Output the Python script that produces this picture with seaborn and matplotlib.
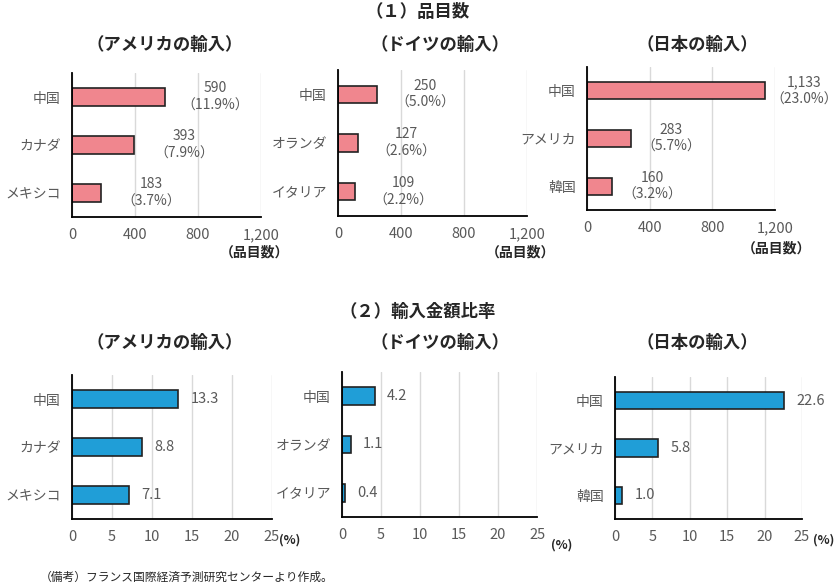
import pandas as pd
import matplotlib.pyplot as plt
import seaborn as sns

# --- Data ---
PANEL_TITLES = ['（アメリカの輸入）', '（ドイツの輸入）', '（日本の輸入）']
COUNTRIES = [
    ['中国', 'カナダ', 'メキシコ'],
    ['中国', 'オランダ', 'イタリア'],
    ['中国', 'アメリカ', '韓国'],
]
ITEM_COUNTS = [
    [590, 393, 183],
    [250, 127, 109],
    [1133, 283, 160],
]
ITEM_SHARES = [
    [11.9, 7.9, 3.7],
    [5.0, 2.6, 2.2],
    [23.0, 5.7, 3.2],
]
VALUE_SHARES = [
    [13.3, 8.8, 7.1],
    [4.2, 1.1, 0.4],
    [22.6, 5.8, 1.0],
]
COUNT_TICKS = [0, 400, 800, 1200]
SHARE_TICKS = [0, 5, 10, 15, 20, 25]

PINK = '#F0868E'
BLUE = '#209ED7'
GRAY = '#595959'

W, H = 837, 585

# axes boxes in pixels: left, right, top, bottom
TOP_BOXES = [(72, 261, 73, 217), (338, 527, 70, 216), (587, 775, 67, 210)]
BOT_BOXES = [(72, 272, 375, 519), (342, 537, 372, 517), (615, 802, 377, 519)]
LABEL_OFFSETS = [50, 48, 40]


def px_box(box):
    l, r, t, b = box
    return [l / W, 1 - b / H, (r - l) / W, (b - t) / H]


def style_axis(ax, ticks, ticklabels):
    ax.set_xlim(ticks[0], ticks[-1])
    ax.set_xticks(ticks)
    ax.set_xticklabels(ticklabels, fontsize=10.5)
    ax.grid(axis='x', color='#d9d9d9', linewidth=1)
    ax.grid(axis='y', visible=False)
    ax.set_axisbelow(True)
    for side in ['top', 'right']:
        ax.spines[side].set_visible(False)
    for side in ['left', 'bottom']:
        ax.spines[side].set_color('black')
        ax.spines[side].set_linewidth(1.3)
    ax.tick_params(length=0, labelsize=10, colors=GRAY, pad=8)
    ax.tick_params(axis='x', labelsize=10.5)
    ax.set_xlabel('')
    ax.set_ylabel('')


def main():
    sns.set_theme(style="white")
    plt.rcParams['font.family'] = ['Noto Sans CJK JP', 'DejaVu Sans']

    fig = plt.figure(figsize=(W / 100, H / 100), dpi=100)

    def ftext(x, y, s, **kw):
        fig.text(x / W, 1 - y / H, s, ha='center', va='center', **kw)

    ftext(418, 12, '（１）品目数', fontsize=12.5, fontweight='bold')
    ftext(418, 312, '（２）輸入金額比率', fontsize=12.5, fontweight='bold')
    title_x = [165, 440, 697]
    for i, t in enumerate(PANEL_TITLES):
        ftext(title_x[i], 45, t, fontsize=12.5, fontweight='bold')
        ftext(title_x[i], 343, t, fontsize=12.5, fontweight='bold')

    # (1) item counts
    unit_pos = [(255, 252), (521, 252), (777, 248)]
    for i in range(3):
        ax = fig.add_axes(px_box(TOP_BOXES[i]))
        df = pd.DataFrame({'country': COUNTRIES[i], 'value': ITEM_COUNTS[i]})
        sns.barplot(data=df, x='value', y='country', orient='h', color=PINK,
                    saturation=1, edgecolor='#222222', linewidth=1.2,
                    width=0.36, ax=ax)
        style_axis(ax, COUNT_TICKS, ['0', '400', '800', '1,200'])
        for j, (v, p) in enumerate(zip(ITEM_COUNTS[i], ITEM_SHARES[i])):
            ax.annotate(f'{v:,}\n（{p:.1f}%）', xy=(v, j),
                        xytext=(LABEL_OFFSETS[i], 0),
                        textcoords='offset pixels', ha='center', va='center',
                        fontsize=10, color=GRAY, linespacing=1.3)
        ftext(*unit_pos[i], '（品目数）', fontsize=10, fontweight='bold')

    # (2) import value shares
    pct_pos = [(290, 540), (562, 545), (824, 540)]
    for i in range(3):
        ax = fig.add_axes(px_box(BOT_BOXES[i]))
        df = pd.DataFrame({'country': COUNTRIES[i], 'value': VALUE_SHARES[i]})
        sns.barplot(data=df, x='value', y='country', orient='h', color=BLUE,
                    saturation=1, edgecolor='#222222', linewidth=1.2,
                    width=0.36, ax=ax)
        style_axis(ax, SHARE_TICKS, [str(t) for t in SHARE_TICKS])
        for j, v in enumerate(VALUE_SHARES[i]):
            ax.annotate(f'{v:.1f}', xy=(v, j), xytext=(12, 0),
                        textcoords='offset pixels', ha='left', va='center',
                        fontsize=10.5, color=GRAY)
        ftext(*pct_pos[i], '(%)', fontsize=9, fontweight='bold')

    fig.text(40 / W, 1 - 577 / H, '（備考）フランス国際経済予測研究センターより作成。',
             ha='left', va='center', fontsize=8.5)

    fig.savefig('out.png', dpi=100)
    plt.close(fig)


if __name__ == "__main__":
    main()
